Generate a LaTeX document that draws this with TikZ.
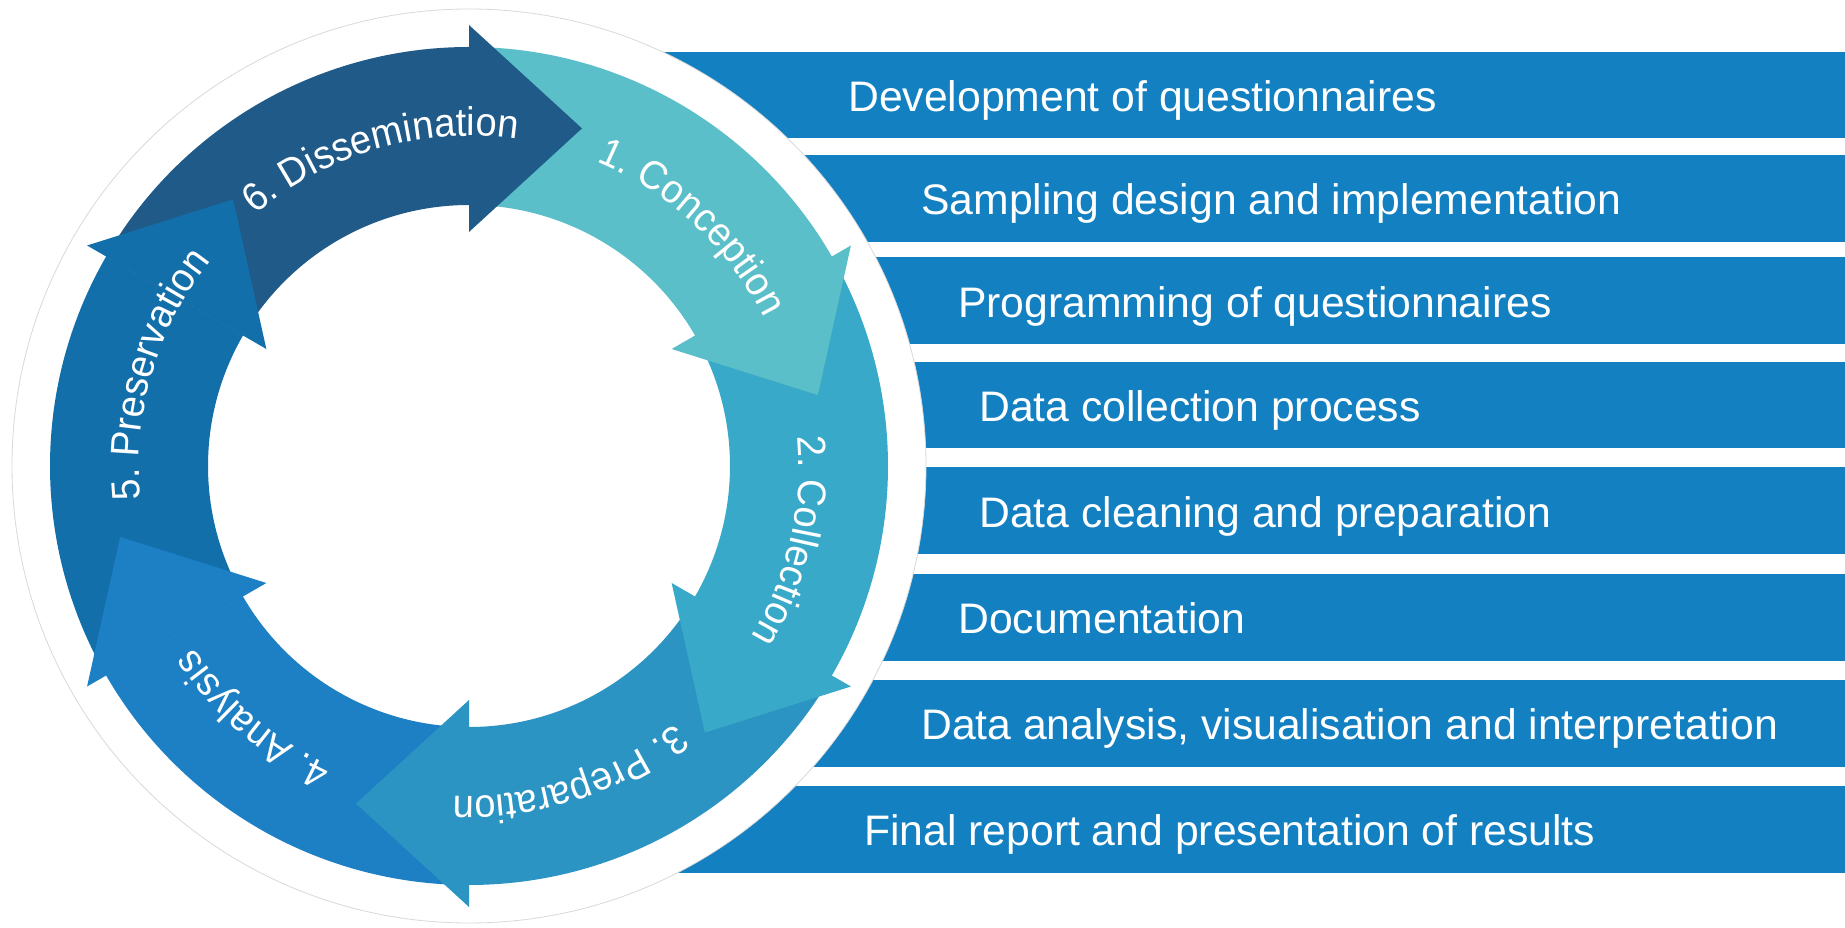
\documentclass[tikz,border=0pt]{standalone}
\usepackage{fontspec}
\setmainfont{Liberation Sans}
\newfontfamily\segfam[FakeStretch=0.95]{Liberation Sans}
\usetikzlibrary{decorations.text}
\definecolor{barblue}{HTML}{1380C2}
\definecolor{cConc}{HTML}{5ABFC8}
\definecolor{cColl}{HTML}{38A9C8}
\definecolor{cPrep}{HTML}{2B94C3}
\definecolor{cAnal}{HTML}{1E80C4}
\definecolor{cPres}{HTML}{136FAA}
\definecolor{cDiss}{HTML}{205A89}
\newcommand{\segfont}{\segfam\fontsize{40}{48}\selectfont\color{white}}
\tikzset{
  bartext/.style={anchor=base west, inner sep=0pt, text=white, font=\fontsize{42.7}{50}\selectfont},
  barrect/.style={fill=barblue},
  seglabel/.style={decorate, decoration={text along path, text align=center, text={|\segfont|#1}}},
}
\newcommand{\band}[3]{\fill[#3] (#1:419) arc[start angle=#1, end angle=#2, radius=419] -- (#2:261) arc[start angle=#2, end angle=#1, radius=261] -- cycle;}
\newcommand{\ahead}[2]{\fill[#2] (#1:234) -- (#1:441) -- ({#1-18.5}:356) -- cycle;}
\newcommand{\seglab}[2]{\path[seglabel={#2}] ({#1+36}:330) arc[start angle={#1+36}, end angle={#1-36}, radius=330];}
\begin{document}
\begin{tikzpicture}[x=1pt,y=1pt]
\useasboundingbox (0,0) rectangle (1845,927);
\fill[white] (0,0) rectangle (1845,927);
% bars
\fill[barrect] (469,875.3) rectangle (1845,788.6);
\fill[barrect] (469,772.0) rectangle (1845,685.3);
\fill[barrect] (469,669.7) rectangle (1845,583.0);
\fill[barrect] (469,565.3) rectangle (1845,478.6);
\fill[barrect] (469,459.7) rectangle (1845,373.0);
\fill[barrect] (469,353.0) rectangle (1845,266.3);
\fill[barrect] (469,247.0) rectangle (1845,160.3);
\fill[barrect] (469,141.0) rectangle (1845,54.3);
% white disc
\fill[white] (469,461) circle[radius=457];
\draw[black!15, line width=0.8pt] (469,461) circle[radius=457];
% cycle
\begin{scope}[shift={(469,461)}]
  \band{90}{30}{cConc}
  \band{30}{-30}{cColl}
  \band{-30}{-90}{cPrep}
  \band{-90}{-150}{cAnal}
  \band{210}{150}{cPres}
  \band{150}{90}{cDiss}
  \ahead{30}{cConc}
  \ahead{-30}{cColl}
  \ahead{-90}{cPrep}
  \ahead{-150}{cAnal}
  \ahead{150}{cPres}
  \ahead{90}{cDiss}
  \seglab{47}{1. Conception}
  \seglab{-13}{2. Collection}
  \seglab{-72}{3. Preparation}
  \seglab{-130.5}{4. Analysis}
  \seglab{163.7}{5. Preservation}
  \seglab{106}{6. Dissemination}
\end{scope}
% bar texts
\node[bartext] (t1) at (848,815.5) {Development of questionnaires};
\node[bartext] (t2) at (921,712.1) {Sampling design and implementation};
\node[bartext] (t3) at (958,609.8) {Programming of questionnaires};
\node[bartext] (t4) at (979,505.4) {Data collection process};
\node[bartext] (t5) at (979,399.8) {Data cleaning and preparation};
\node[bartext] (t6) at (958,293.1) {Documentation};
\node[bartext] (t7) at (921,187.1) {Data analysis, visualisation and interpretation};
\node[bartext] (t8) at (864,81.1) {Final report and presentation of results};
\end{tikzpicture}
\end{document}
